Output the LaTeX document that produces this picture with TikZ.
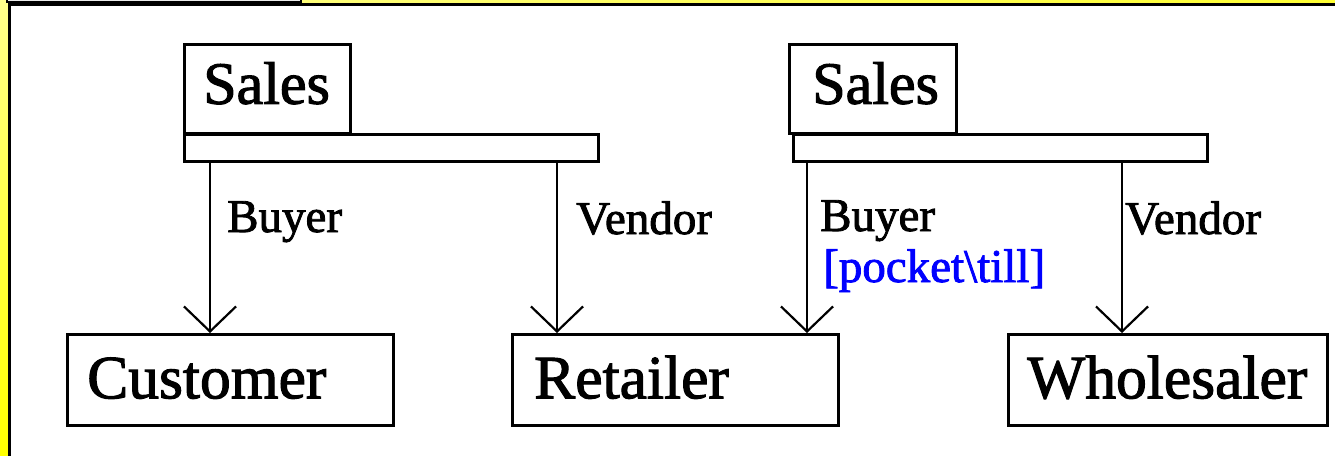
\documentclass[tikz,border=0pt]{standalone}
\usepackage{fontspec}
\setmainfont{Liberation Serif}
\newfontfamily\heavyserif{Liberation Serif}[FakeBold=1.8]
\usetikzlibrary{arrows.meta,shadings}
\begin{document}
\begin{tikzpicture}[x=1pt, y=-1pt,
  boxline/.style={draw=black, line width=2.5pt, fill=white},
  cls/.style={boxline, anchor=north west, inner ysep=0pt, align=left,
    font=\heavyserif\fontsize{61.5}{61.5}\selectfont, text height=42pt, text depth=5pt,
    minimum height=91pt},
  pkg/.style={cls, font=\heavyserif\fontsize{60}{60}\selectfont,
    text depth=12pt, minimum height=89pt},
  bar/.style={boxline, anchor=north west, inner sep=0pt,
    minimum width=414pt, minimum height=27pt},
  role/.style={anchor=base west, inner sep=0pt,
    font=\heavyserif\fontsize{47}{47}\selectfont},
  assoc/.style={draw=black, line width=2pt,
    -{Straight Barb[length=25pt, width=52pt, line width=2.2pt]}}
]
\clip (0,0) rectangle (1335,455);
\useasboundingbox (0,0) rectangle (1335,455);

% yellow frame and white slide panel
\shade[upper left=yellow!45!white, upper right=yellow!80!white,
       lower left=yellow, lower right=yellow] (0,0) rectangle (1335,455);
\draw[fill=white, line width=3pt] (9.5,4.5) rectangle (1360,480);
\draw[fill=gray!15, draw=black, line width=2pt] (7,-10) rectangle (301,1.5);

% packages with their tabs
\node[bar] (bar1) at (183,133) {};
\node[bar] (bar2) at (792,133) {};
\node[pkg, minimum width=166pt, inner xsep=19pt, text width=128pt] (sales1) at (183,43) {Sales};
\node[pkg, minimum width=167pt, inner xsep=23pt, text width=121pt] (sales2) at (788,43) {Sales};

% classes
\node[cls, minimum width=326pt, inner xsep=20pt, text width=286pt] (cust) at (66,333) {Customer};
\node[cls, minimum width=326pt, inner xsep=22pt, text width=282pt] (ret) at (511,333) {Retailer};
\node[cls, minimum width=319pt, inner xsep=19pt, text width=281pt] (whole) at (1007,333) {Wholesaler};

% association ends
\coordinate (x1) at (210,0);
\coordinate (x2) at (557,0);
\coordinate (x3) at (807,0);
\coordinate (x4) at (1122,0);
\draw[assoc] (bar1.south -| x1) -- (cust.north -| x1);
\draw[assoc] (bar1.south -| x2) -- (ret.north -| x2);
\draw[assoc] (bar2.south -| x3) -- (ret.north -| x3);
\draw[assoc] (bar2.south -| x4) -- (whole.north -| x4);

% role names
\node[role] (buyer1) at (227,232) {Buyer};
\node[role] (vendor1) at (576,234) {Vendor};
\node[role] (buyer2) at (820,231) {Buyer};
\node[role, text=blue] (guard) at (823,282) {[pocket\textbackslash till]};
\node[role] (vendor2) at (1125,234) {Vendor};
\end{tikzpicture}
\end{document}
